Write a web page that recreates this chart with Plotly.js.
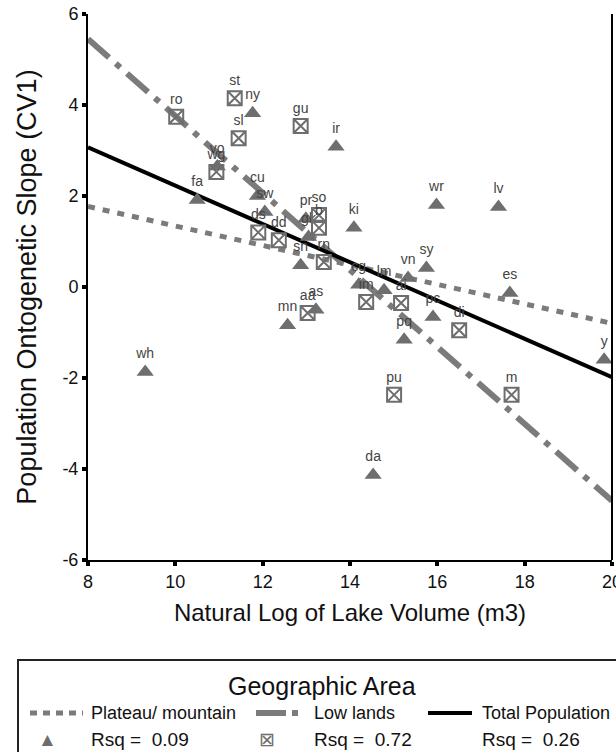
<!DOCTYPE html>
<html>
<head>
<meta charset="utf-8">
<script src="https://cdn.plot.ly/plotly-3.0.1.min.js"></script>
<style>html,body{margin:0;padding:0;background:#fff;}#chart{width:616px;height:752px;}</style>
</head>
<body>
<div id="chart"></div>
<script>
// Plateau / mountain populations (triangles)
const plateauNames = ["ny","ir","fa","cu","sw","vo","pr","gk","sn","ki","wr","lv","cg","lm","vn","sy","es","pc","pq","mn","as","wh","da","y"];
const plateauX = [11.77,13.68,10.5,11.88,12.05,10.96,12.99,13.05,12.87,14.09,15.98,17.4,14.2,14.78,15.33,15.75,17.66,15.9,15.24,12.57,13.22,9.31,14.53,19.82];
const plateauY = [3.82,3.08,1.91,2.0,1.65,2.65,1.5,1.1,0.48,1.3,1.8,1.76,0.05,-0.07,0.2,0.42,-0.13,-0.66,-1.16,-0.84,-0.5,-1.87,-4.13,-1.6];

// Low lands populations (boxed crosses)
const lowNames = ["ro","st","sl","gu","wg","ds","dd","so","b","rn","im","ai","di","aa","pu","m"];
const lowX = [10.02,11.36,11.45,12.87,10.94,11.9,12.37,13.29,13.29,13.4,14.37,15.17,16.5,13.03,15.01,17.7];
const lowY = [3.74,4.15,3.27,3.54,2.53,1.2,1.03,1.58,1.3,0.55,-0.33,-0.35,-0.95,-0.57,-2.37,-2.37];

// Fitted regression lines (end points)
const fitX = [8, 20];
const plateauFit = [1.77, -0.8];
const lowFit = [5.45, -4.7];
const totalFit = [3.07, -1.98];

const xTicks = [8,10,12,14,16,18,20];
const yTicks = [-6,-4,-2,0,2,4,6];

const legendTitle = "Geographic Area";
const legendNames = ["Plateau/ mountain","Low lands","Total Population"];
const legendRsq = ["Rsq =  0.09","Rsq =  0.72","Rsq =  0.26"];

const gray = "#6e6e6e";
const lineGray = "#7b7b7b";
const FONT = "Liberation Sans, Arial, sans-serif";

// plot area in pixels
const L = 88, R = 612, T = 14, B = 560;
const px = v => (v - L) / (R - L);
const py = v => (B - v) / (B - T);

const traces = [
  {x: fitX, y: plateauFit, mode: "lines", line: {color: lineGray, width: 5, dash: "7px,8px"}, hoverinfo: "skip"},
  {x: fitX, y: lowFit, mode: "lines", line: {color: lineGray, width: 6, dash: "28px,9px,6px,9px"}, hoverinfo: "skip"},
  {x: fitX, y: totalFit, mode: "lines", line: {color: "#000", width: 4}, hoverinfo: "skip"},
  {x: plateauX, y: plateauY, text: plateauNames, mode: "markers+text", textposition: "top center",
   textfont: {family: FONT, size: 14, color: "#444"},
   marker: {symbol: "triangle-up", size: 15, color: gray, line: {width: 0}}, cliponaxis: false},
  {x: lowX, y: lowY, text: lowNames, mode: "markers+text", textposition: "top center",
   textfont: {family: FONT, size: 14, color: "#444"},
   marker: {symbol: "square-x-open", size: 14, color: gray, line: {width: 2, color: gray}}, cliponaxis: false}
];

const shapes = [
  // right frame line
  {type: "line", xref: "paper", yref: "paper", x0: 1, x1: 1, y0: 0, y1: 1, line: {color: "#000", width: 2}},
  // legend box
  {type: "rect", xref: "paper", yref: "paper", x0: px(18), x1: px(640), y0: py(660), y1: py(780), line: {color: "#222", width: 2}},
  // legend samples
  {type: "line", xref: "paper", yref: "paper", x0: px(30), x1: px(83), y0: py(713), y1: py(713), line: {color: lineGray, width: 5, dash: "7px,6px"}},
  {type: "line", xref: "paper", yref: "paper", x0: px(256), x1: px(298), y0: py(713), y1: py(713), line: {color: lineGray, width: 6, dash: "30px,6px,6px,6px"}},
  {type: "line", xref: "paper", yref: "paper", x0: px(428), x1: px(472), y0: py(713), y1: py(713), line: {color: "#000", width: 4}}
];

const ann = (t, x, y, size, color, anchor) => ({
  text: t, xref: "paper", yref: "paper", x: px(x), y: py(y), showarrow: false,
  xanchor: anchor || "left", yanchor: "middle", font: {family: FONT, size: size, color: color || "#111"}
});

const annotations = [
  ann(legendTitle, 322, 686, 25, "#111", "center"),
  ann(legendNames[0], 89, 713, 18),
  ann(legendNames[1], 312, 713, 18),
  ann(legendNames[2], 480, 713, 18),
  ann("▲", 47, 739, 19, gray, "center"),
  ann("⊠", 267, 739, 19, gray, "center"),
  ann(legendRsq[0], 89, 739, 19),
  ann(legendRsq[1], 312, 739, 19),
  ann(legendRsq[2], 480, 739, 19)
];

const layout = {
  width: 616, height: 752,
  margin: {l: L, r: 616 - R, t: T, b: 752 - B},
  paper_bgcolor: "#fff", plot_bgcolor: "#fff",
  showlegend: false,
  font: {family: FONT, color: "#111"},
  xaxis: {
    range: [8, 20], tickvals: xTicks, ticktext: xTicks.map(String),
    showgrid: false, zeroline: false, showline: true, linecolor: "#000", linewidth: 2,
    ticks: "outside", ticklen: 4, tickwidth: 4, tickcolor: "#000",
    ticklabeloverflow: "allow",
    tickfont: {family: FONT, size: 18, color: "#111"},
    title: {text: "Natural Log of Lake Volume (m3)", font: {family: FONT, size: 24, color: "#111"}, standoff: 14},
    automargin: false
  },
  yaxis: {
    range: [-6, 6], tickvals: yTicks, ticktext: yTicks.map(String),
    showgrid: false, zeroline: false, showline: true, linecolor: "#000", linewidth: 2,
    ticks: "outside", ticklen: 4, tickwidth: 4, tickcolor: "#000",
    ticklabeloverflow: "allow",
    tickfont: {family: FONT, size: 18, color: "#111"},
    title: {text: "Population Ontogenetic Slope (CV1)", font: {family: FONT, size: 27, color: "#111"}, standoff: 18},
    automargin: false
  },
  shapes: shapes,
  annotations: annotations
};

Plotly.newPlot("chart", traces, layout, {displayModeBar: false, staticPlot: true});
</script>
</body>
</html>
